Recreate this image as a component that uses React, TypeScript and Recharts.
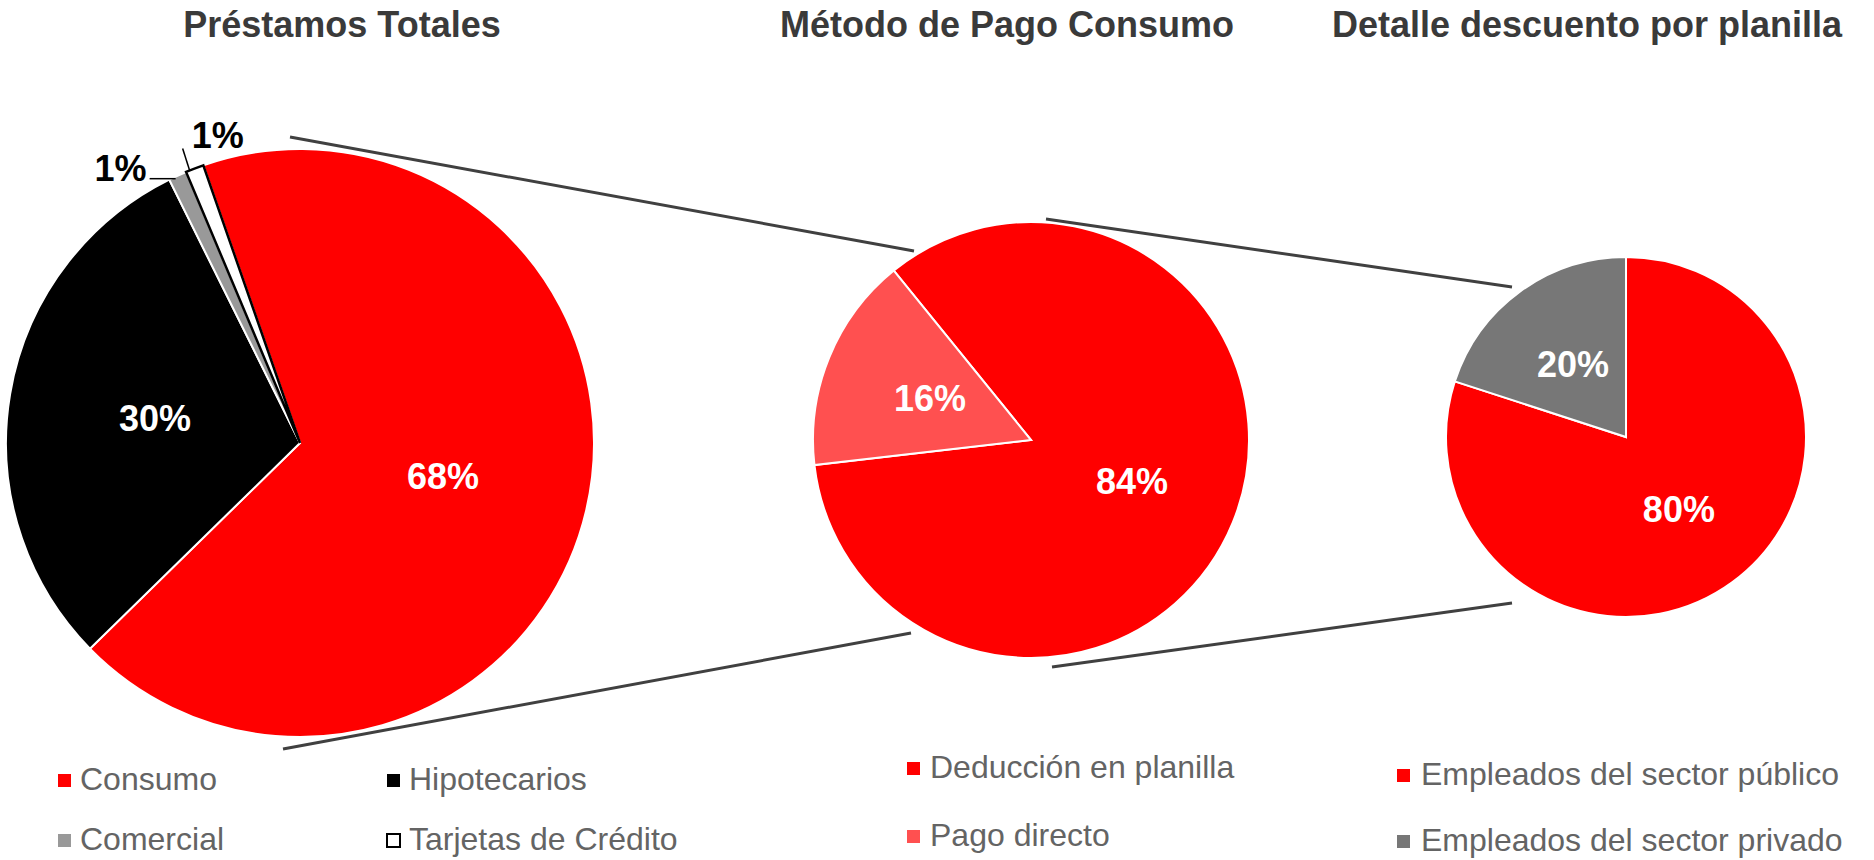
import { PieChart, Pie, Cell } from "recharts";

const W = 1874;
const H = 860;

const titles = ["Préstamos Totales", "Método de Pago Consumo", "Detalle descuento por planilla"];

const totalCategories = ["Consumo", "Hipotecarios", "Comercial", "Tarjetas de Crédito"];
const totalValues = [68, 30, 1, 1];

const metodoCategories = ["Deducción en planilla", "Pago directo"];
const metodoValues = [84, 16];

const planillaCategories = ["Empleados del sector público", "Empleados del sector privado"];
const planillaValues = [80, 20];

const totalColors = ["#ff0000", "#000000", "#999999", "#ffffff"];
const metodoColors = ["#ff0000", "#ff5050"];
const planillaColors = ["#ff0000", "#777777"];

const FONT = "'Liberation Sans', Arial, Helvetica, sans-serif";
const RAD = Math.PI / 180;

const totalData = totalCategories.map((name, i) => ({ name, value: totalValues[i] }));
const metodoData = metodoCategories.map((name, i) => ({ name, value: metodoValues[i] }));
const planillaData = planillaCategories.map((name, i) => ({ name, value: planillaValues[i] }));

function pct(p: number) {
  return `${Math.round(p * 100)}%`;
}

function insideLabel(props: any) {
  const { cx, cy, midAngle, outerRadius, percent } = props;
  const r = outerRadius * 0.5;
  const x = cx + r * Math.cos(-midAngle * RAD);
  const y = cy + r * Math.sin(-midAngle * RAD);
  return (
    <text
      x={x}
      y={y}
      fill="#ffffff"
      textAnchor="middle"
      dominantBaseline="central"
      fontFamily={FONT}
      fontWeight="bold"
      fontSize={36}
    >
      {pct(percent)}
    </text>
  );
}

// first pie: the two tiny slices get their labels outside with leader lines
function totalLabel(props: any) {
  const { cx, cy, midAngle, outerRadius, percent, index } = props;
  if (index < 2) return insideLabel(props);
  const ox = cx + outerRadius * Math.cos(-midAngle * RAD);
  const oy = cy + outerRadius * Math.sin(-midAngle * RAD);
  const txt = { fontFamily: FONT, fontWeight: "bold" as const, fontSize: 36, fill: "#000" };
  if (index === 2) {
    return (
      <g>
        <line x1={ox - 2} y1={oy + 3} x2={ox - 28} y2={oy + 3} stroke="#000" strokeWidth={1.5} />
        <text x={ox - 31} y={oy + 5} textAnchor="end" {...txt}>
          {pct(percent)}
        </text>
      </g>
    );
  }
  return (
    <g>
      <line x1={ox - 5} y1={oy + 2} x2={ox - 12} y2={oy - 20} stroke="#000" strokeWidth={1.5} />
      <text x={ox - 3} y={oy - 21} textAnchor="start" {...txt}>
        {pct(percent)}
      </text>
    </g>
  );
}

function LegendBlock({
  names,
  colors,
  squareX,
  textX,
  rows,
  cols,
  outlined = [],
}: {
  names: string[];
  colors: string[];
  squareX: number[];
  textX: number[];
  rows: number[];
  cols: number;
  outlined?: number[];
}) {
  return (
    <g>
      {names.map((n, i) => {
        const c = i % cols;
        const r = Math.floor(i / cols);
        const base = rows[r];
        const isOut = outlined.includes(i);
        return (
          <g key={n}>
            <rect
              x={squareX[c]}
              y={base - 16}
              width={13}
              height={13}
              fill={isOut ? "#fff" : colors[i]}
              stroke={isOut ? "#000" : "none"}
              strokeWidth={2}
            />
            <text x={textX[c]} y={base} fontFamily={FONT} fontSize={32} fill="#646464">
              {n}
            </text>
          </g>
        );
      })}
    </g>
  );
}

export default function App() {
  return (
    <div style={{ position: "absolute", left: 0, top: 0, width: W, height: H, background: "#fff" }}>
      <PieChart width={W} height={H} margin={{ top: 0, right: 0, bottom: 0, left: 0 }}>
        <Pie
          data={totalData}
          dataKey="value"
          nameKey="name"
          cx={300}
          cy={443}
          outerRadius={294}
          startAngle={109.2}
          endAngle={-250.8}
          label={totalLabel}
          labelLine={false}
          isAnimationActive={false}
        >
          {totalData.map((d, i) => (
            <Cell
              key={d.name}
              fill={totalColors[i]}
              stroke={i === 3 ? "#000" : "#fff"}
              strokeWidth={i === 3 ? 2.5 : 2}
            />
          ))}
        </Pie>
        <Pie
          data={metodoData}
          dataKey="value"
          nameKey="name"
          cx={1031}
          cy={440}
          outerRadius={218}
          startAngle={129}
          endAngle={-231}
          label={insideLabel}
          labelLine={false}
          isAnimationActive={false}
        >
          {metodoData.map((d, i) => (
            <Cell key={d.name} fill={metodoColors[i]} stroke="#fff" strokeWidth={2} />
          ))}
        </Pie>
        <Pie
          data={planillaData}
          dataKey="value"
          nameKey="name"
          cx={1626}
          cy={437}
          outerRadius={180}
          startAngle={90}
          endAngle={-270}
          label={insideLabel}
          labelLine={false}
          isAnimationActive={false}
        >
          {planillaData.map((d, i) => (
            <Cell key={d.name} fill={planillaColors[i]} stroke="#fff" strokeWidth={2} />
          ))}
        </Pie>
      </PieChart>
      <svg
        width={W}
        height={H}
        style={{ position: "absolute", left: 0, top: 0, pointerEvents: "none" }}
      >
        {/* titles */}
        <g fontFamily={FONT} fontWeight="bold" fontSize={36} fill="#3a3a3a" textAnchor="middle">
          <text x={342} y={37}>{titles[0]}</text>
          <text x={1007} y={37}>{titles[1]}</text>
          <text x={1587} y={37}>{titles[2]}</text>
        </g>
        {/* connector lines between the pies */}
        <g stroke="#404040" strokeWidth={3}>
          <line x1={290} y1={137} x2={914} y2={251} />
          <line x1={283} y1={749} x2={911} y2={633} />
          <line x1={1046} y1={219} x2={1512} y2={287} />
          <line x1={1052} y1={667} x2={1512} y2={603} />
        </g>
        <LegendBlock
          names={totalCategories}
          colors={totalColors}
          squareX={[58, 387]}
          textX={[80, 409]}
          rows={[790, 850]}
          cols={2}
          outlined={[3]}
        />
        <LegendBlock
          names={metodoCategories}
          colors={metodoColors}
          squareX={[907]}
          textX={[930]}
          rows={[778, 846]}
          cols={1}
        />
        <LegendBlock
          names={planillaCategories}
          colors={planillaColors}
          squareX={[1397]}
          textX={[1421]}
          rows={[785, 851]}
          cols={1}
        />
      </svg>
    </div>
  );
}
